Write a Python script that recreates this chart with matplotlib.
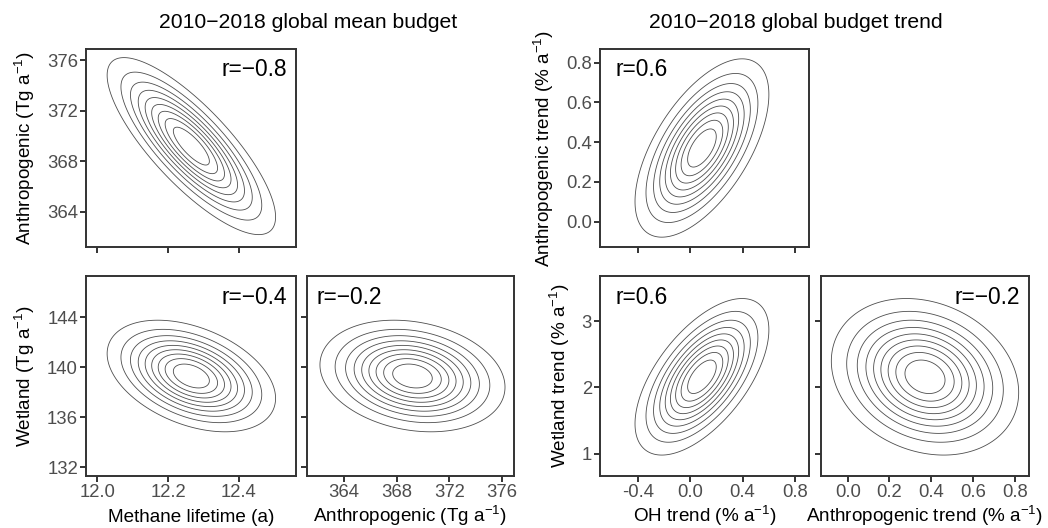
import matplotlib
matplotlib.use("Agg")
import matplotlib.pyplot as plt
import numpy as np
from matplotlib.ticker import FormatStrFormatter, FixedLocator

plt.rcParams["font.family"] = ["Liberation Sans", "DejaVu Sans"]
plt.rcParams["mathtext.fontset"] = "custom"
plt.rcParams["mathtext.rm"] = "Liberation Sans"
plt.rcParams["mathtext.it"] = "Liberation Sans:italic"

# 2010-2018 global mean budget: mean and sd of each variable
mean_vars = ["lifetime", "anthro", "wetland"]
mean_mu = [12.266, 369.2, 139.3]
mean_sd = [0.111, 3.27, 2.08]
# correlations (x, y, r)
mean_pairs = [("lifetime", "anthro", -0.8), ("lifetime", "wetland", -0.4), ("anthro", "wetland", -0.2)]

# 2010-2018 global budget trend
trend_vars = ["oh", "anthro", "wetland"]
trend_mu = [0.09, 0.37, 2.16]
trend_sd = [0.238, 0.209, 0.55]
trend_pairs = [("oh", "anthro", 0.6), ("oh", "wetland", 0.6), ("anthro", "wetland", -0.2)]

levels = [0.1, 0.2, 0.3, 0.4, 0.5, 0.6, 0.7, 0.8, 0.9]

lims = {
    "lifetime": (11.968, 12.562), "anthro": (361.2, 376.9), "wetland": (131.3, 147.3),
    "oh": (-0.688, 0.907), "anthro_t": (-0.128, 0.868), "wetland_t": (0.664, 3.68),
}
ticks = {
    "lifetime": [12.0, 12.2, 12.4], "anthro": [364, 368, 372, 376], "wetland": [132, 136, 140, 144],
    "oh": [-0.4, 0.0, 0.4, 0.8], "anthro_t": [0.0, 0.2, 0.4, 0.6, 0.8], "wetland_t": [1, 2, 3],
}
fmts = {"lifetime": "%.1f", "anthro": "%d", "wetland": "%d", "oh": "%.1f", "anthro_t": "%.1f", "wetland_t": "%d"}

W, H = 1048, 528
fig = plt.figure(figsize=(W / 100, H / 100), dpi=100)

def add_ax(x0, y0, x1, y1):
    return fig.add_axes([x0 / W, 1 - y1 / H, (x1 - x0) / W, (y1 - y0) / H])

def density(mx, sx, my, sy, r, xl, yl):
    x = np.linspace(xl[0], xl[1], 400)
    y = np.linspace(yl[0], yl[1], 400)
    X, Y = np.meshgrid(x, y)
    zx = (X - mx) / sx
    zy = (Y - my) / sy
    q = (zx ** 2 - 2 * r * zx * zy + zy ** 2) / (1 - r ** 2)
    return X, Y, np.exp(-q / 2)

def style(ax, xkey, ykey, xlab, ylab):
    ax.set_xlim(lims[xkey])
    ax.set_ylim(lims[ykey])
    ax.xaxis.set_major_locator(FixedLocator(ticks[xkey]))
    ax.yaxis.set_major_locator(FixedLocator(ticks[ykey]))
    ax.xaxis.set_major_formatter(FormatStrFormatter(fmts[xkey]))
    ax.yaxis.set_major_formatter(FormatStrFormatter(fmts[ykey]))
    for s in ax.spines.values():
        s.set_color("#333333")
        s.set_linewidth(1.4)
    ax.tick_params(length=4.3, width=1.4, color="#333333", labelcolor="#4D4D4D",
                   labelsize=13.3, pad=1.5)
    if not xlab:
        ax.tick_params(axis="x", labelbottom=False)
    else:
        # baseline-aligned label below the panel
        bb = ax.get_position()
        fig.text((bb.x0 + bb.x1) / 2, 1 - 522 / H, xlab, ha="center", va="baseline", fontsize=13.6)
    if not ylab:
        ax.tick_params(axis="y", labelleft=False)
    else:
        ax.set_ylabel(ylab, fontsize=13.6, labelpad=7)

def panel(ax, mu, sd, names, pair, left_text):
    xn, yn, r = pair
    i, j = names.index(xn), names.index(yn)
    X, Y, Z = density(mu[i], sd[i], mu[j], sd[j], r, ax.get_xlim(), ax.get_ylim())
    ax.contour(X, Y, Z, levels=levels, colors="#4D4D4D", linewidths=0.6)
    lab = "r=" + ("%.1f" % r).replace("-", "\u2212")
    if left_text:
        ax.text(left_text, 0.895, lab, transform=ax.transAxes, ha="left", va="center", fontsize=16.4)
    else:
        ax.text(0.957, 0.895, lab, transform=ax.transAxes, ha="right", va="center", fontsize=16.4)

unit = r" (Tg a$^{-1}$)"
tunit = r" (% a$^{-1}$)"

# left group
ax = add_ax(86, 49, 296, 247)
style(ax, "lifetime", "anthro", None, "Anthropogenic" + unit)
panel(ax, mean_mu, mean_sd, mean_vars, mean_pairs[0], None)

ax = add_ax(86, 276, 296, 476)
style(ax, "lifetime", "wetland", "Methane lifetime (a)", "Wetland" + unit)
panel(ax, mean_mu, mean_sd, mean_vars, mean_pairs[1], None)

ax = add_ax(307, 276, 514, 476)
style(ax, "anthro", "wetland", "Anthropogenic" + unit, None)
panel(ax, mean_mu, mean_sd, mean_vars, mean_pairs[2], 0.048)

# right group
ax = add_ax(600, 49, 809, 247)
style(ax, "oh", "anthro_t", None, "Anthropogenic trend" + tunit)
panel(ax, trend_mu, trend_sd, trend_vars, trend_pairs[0], 0.076)

ax = add_ax(600, 276, 809, 476)
style(ax, "oh", "wetland_t", "OH trend" + tunit, "Wetland trend" + tunit)
panel(ax, trend_mu, trend_sd, trend_vars, trend_pairs[1], 0.076)

ax = add_ax(821, 276, 1029, 476)
style(ax, "anthro_t", "wetland_t", "Anthropogenic trend" + tunit, None)
panel(ax, trend_mu, trend_sd, trend_vars, trend_pairs[2], None)

fig.text(308 / W, 1 - 28 / H, "2010\u22122018 global mean budget", ha="center", va="baseline", fontsize=15.2)
fig.text(796 / W, 1 - 28 / H, "2010\u22122018 global budget trend", ha="center", va="baseline", fontsize=15.2)

fig.savefig("out.png", dpi=100, facecolor="white")
